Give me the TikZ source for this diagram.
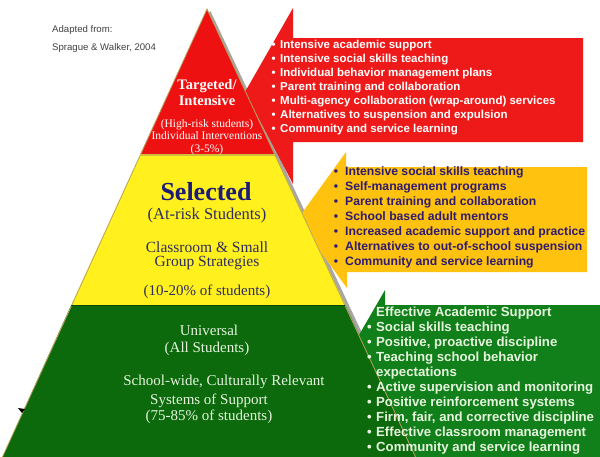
\documentclass[tikz,border=0pt]{standalone}
\usepackage{fontspec}
\setmainfont{Liberation Serif}
\setsansfont{Liberation Sans}
\definecolor{pred}{HTML}{EE1111}
\definecolor{ared}{HTML}{EE1A1A}
\definecolor{pyel}{HTML}{FFF01E}
\definecolor{ayel}{HTML}{FFC20E}
\definecolor{pgrn}{HTML}{0C6A0C}
\definecolor{agrn}{HTML}{11801A}
\definecolor{navy}{HTML}{1C1C78}
\definecolor{slate}{HTML}{2E2E5E}
\definecolor{ltgrn}{HTML}{E6F4DE}
\definecolor{listpurple}{HTML}{2E1B70}
\definecolor{edgecol}{HTML}{B9A35A}
\definecolor{srcgray}{HTML}{404040}
\newcommand\bR{\llap{•\hspace{4.5pt}}}
\newcommand\bY{\llap{•\hspace{7pt}}}
\newcommand\bG{\llap{•\hspace{4.5pt}}}
\begin{document}
\begin{tikzpicture}[x=1pt,y=-1pt,
  ptxt/.style={inner sep=0pt, anchor=center, align=center},
  redbig/.style={ptxt, text=white, font=\fontsize{14.5}{16}\selectfont\bfseries},
  redsmall/.style={ptxt, text=white, font=\fontsize{11.5}{12.5}\selectfont},
  yelbig/.style={ptxt, text=navy, font=\fontsize{26}{28}\selectfont\bfseries},
  yeltxt/.style={ptxt, text=slate, font=\fontsize{15.5}{14}\selectfont},
  grntxt/.style={ptxt, text=ltgrn, font=\fontsize{15}{16.5}\selectfont},
  redlist/.style={inner sep=0pt, anchor=west, text=white, text height=8.5pt, text depth=2.5pt,
     font=\fontsize{11.5}{14}\selectfont\sffamily\bfseries},
  yellist/.style={inner sep=0pt, anchor=west, text=listpurple, text height=8.8pt, text depth=2.6pt,
     font=\fontsize{12.2}{15}\selectfont\sffamily\bfseries},
  grnlist/.style={inner sep=0pt, anchor=west, text=ltgrn, text height=9.5pt, text depth=2.8pt,
     font=\fontsize{13.2}{15}\selectfont\sffamily\bfseries},
  srctxt/.style={inner sep=0pt, anchor=west, text=srcgray, font=\fontsize{9.6}{11}\selectfont\sffamily}
]
\useasboundingbox (0,0) rectangle (600,456);
\begin{scope}
\clip (0,0) rectangle (600,456);
% pyramid shadow (behind everything)
\draw[gray!70, line width=3.5pt] (209,12) -- (419,458);
% arrows (behind the pyramid)
\fill[ared] (583,38) -- (293,38) -- (293,8) -- (245,92) -- (293,184) -- (293,142) -- (583,142) -- cycle;
\fill[ayel] (587,167) -- (346,167) -- (346,152) -- (297,220) -- (347,288) -- (347,272) -- (587,272) -- cycle;
\fill[agrn] (610,305) -- (385,305) -- (385,290) -- (333,380) -- (385,470) -- (610,470) -- cycle;
% tiers
\fill[pgrn] (71.25,305) -- (345.4,305) -- (416,458) -- (2,458) -- cycle;
\fill[pyel] (140.05,155) -- (275.26,155) -- (345.4,305) -- (71.25,305) -- cycle;
\fill[pred] (207,9) -- (275.26,155) -- (140.05,155) -- cycle;
\draw[edgecol, line width=0.8pt] (2,458) -- (207,9) -- (416,458);
\draw[edgecol!70!yellow, line width=1.2pt] (140.05,155) -- (275.26,155);
\draw[pgrn!70!black, line width=0.8pt] (71.25,305) -- (345.4,305);
% small mark
\fill[black] (18,408) -- (25,409) -- (22,413) -- cycle;
\end{scope}
% source
\node[srctxt] (src1) at (52,30) {Adapted from:};
\node[srctxt] (src2) at (52,48) {Sprague \& Walker, 2004};
% red tier
\node[redbig] (t1) at (207,93) {Targeted/\\Intensive};
\node[redsmall] (t3) at (207,137) {(High-risk students)\\Individual Interventions\\(3-5\%)};
% yellow tier
\node[yelbig] (s1) at (206,192) {Selected};
\node[yeltxt, font=\fontsize{16.5}{18}\selectfont] (s2) at (207,216) {(At-risk Students)};
\node[yeltxt] (s3) at (207,256) {Classroom \& Small\\Group Strategies};
\node[yeltxt, font=\fontsize{15}{17}\selectfont] (s5) at (207,292) {(10-20\% of students)};
% green tier
\node[grntxt] (u1) at (209,330) {Universal};
\node[grntxt] (u2) at (207,349) {(All Students)};
\node[grntxt] (u3) at (224,382) {School-wide, Culturally Relevant};
\node[grntxt] (u4) at (209,409) {Systems of Support\\(75-85\% of students)};
% red list
\foreach \t [count=\i] in {
  {Intensive academic support},
  {Intensive social skills teaching},
  {Individual behavior management plans},
  {Parent training and collaboration},
  {Multi-agency collaboration (wrap-around) services},
  {Alternatives to suspension and expulsion},
  {Community and service learning}}
  \node[redlist] (r\i) at (280,{31+14*\i}) {\bR\t};
% yellow list
\foreach \t [count=\i] in {
  {Intensive social skills teaching},
  {Self-management programs},
  {Parent training and collaboration},
  {School based adult mentors},
  {Increased academic support and practice},
  {Alternatives to out-of-school suspension},
  {Community and service learning}}
  \node[yellist] (y\i) at (345,{157+15*\i}) {\bY\t};
% green list
\foreach \t [count=\i] in {
  {Effective Academic Support},
  {\bG Social skills teaching},
  {\bG Positive, proactive discipline},
  {\bG Teaching school behavior},
  {expectations},
  {\bG Active supervision and monitoring},
  {\bG Positive reinforcement systems},
  {\bG Firm, fair, and corrective discipline},
  {\bG Effective classroom management},
  {\bG Community and service learning}}
  \node[grnlist] (g\i) at (376,{298+15*\i}) {\t};
\end{tikzpicture}
\end{document}
